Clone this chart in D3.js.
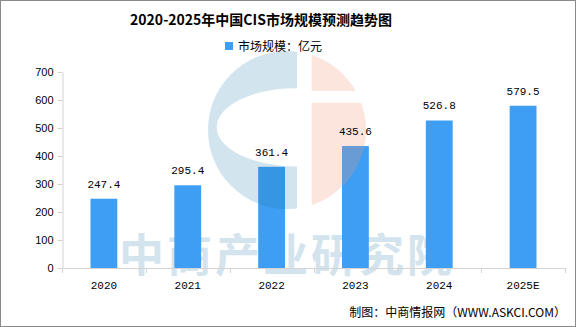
<!DOCTYPE html>
<html><head><meta charset="utf-8">
<script src="https://cdn.jsdelivr.net/npm/d3@7"></script>
<style>body{margin:0;background:#fff}svg{display:block}</style>
</head><body>
<svg id="c" width="576" height="327"></svg>
<script>
const title = "2020-2025年中国CIS市场规模预测趋势图";
const seriesName = "市场规模：亿元";
const categories = ["2020","2021","2022","2023","2024","2025E"];
const values = [247.4, 295.4, 361.4, 435.6, 526.8, 579.5];
const valueLabels = ["247.4","295.4","361.4","435.6","526.8","579.5"];
const yTicks = [0,100,200,300,400,500,600,700];
const source = "制图：中商情报网（WWW.ASKCI.COM）";
const watermark = "中商产业研究院";

(function(){
const svg = d3.select("#c");
const W = 576, H = 327;
const pLeft = 62, pRight = 565, pTop = 72, pBottom = 268;
const barColor = "#3d9ef3";
const axisColor = "#d4d4d4";
const cjk = "'Noto Sans CJK SC', sans-serif";
const mono = "'Liberation Mono', 'DejaVu Sans Mono', monospace";

svg.append("rect").attr("width", W).attr("height", H).attr("fill", "#fff");

const x = d3.scaleBand().domain(categories).range([pLeft, pRight]).padding(0);
const y = d3.scaleLinear().domain([0, 700]).range([pBottom, pTop]);

// watermark text (behind bars)
svg.append("text").attr("x", 287).attr("y", 272)
  .attr("text-anchor", "middle").attr("font-family", cjk).attr("font-weight", 700)
  .attr("font-size", 45).attr("letter-spacing", 3).attr("fill", "#d3e4ee")
  .text(watermark);

// title
svg.append("text").attr("x", 261).attr("y", 25).attr("text-anchor", "middle")
  .attr("font-family", cjk).attr("font-weight", 700).attr("font-size", 14).attr("fill", "#000")
  .text(title);

// legend
svg.append("rect").attr("x", 225).attr("y", 42).attr("width", 8).attr("height", 8).attr("fill", barColor);
svg.append("text").attr("x", 238).attr("y", 51).attr("font-family", cjk).attr("font-size", 12).attr("fill", "#000")
  .text(seriesName);

// y axis
const yAxis = svg.append("g").attr("transform", `translate(${pLeft + 0.5},0)`)
  .call(d3.axisLeft(y).tickValues(yTicks).tickSize(5).tickSizeOuter(0).tickPadding(4));
yAxis.select(".domain").attr("stroke", axisColor);
yAxis.selectAll(".tick line").attr("stroke", axisColor);
yAxis.selectAll(".tick text").attr("font-family", "'Liberation Sans', Arial, sans-serif")
  .attr("font-size", 11).attr("fill", "#000");

// x axis
const xg = svg.append("g");
xg.append("line").attr("x1", pLeft).attr("x2", pRight + 1).attr("y1", pBottom + 0.5).attr("y2", pBottom + 0.5)
  .attr("stroke", axisColor);
const bounds = categories.map(c => x(c)).concat([x.range()[1]]);
xg.selectAll("line.tk").data(bounds).join("line").attr("class", "tk")
  .attr("x1", d => Math.round(d) + 0.5).attr("x2", d => Math.round(d) + 0.5)
  .attr("y1", pBottom).attr("y2", pBottom + 5).attr("stroke", axisColor);
xg.selectAll("text").data(categories).join("text")
  .attr("x", d => x(d) + x.bandwidth() / 2).attr("y", 289)
  .attr("text-anchor", "middle").attr("font-family", mono).attr("font-size", 11).attr("fill", "#000")
  .text(d => d);

// bars
const bw = x.bandwidth() * 0.32;
svg.append("g").selectAll("rect").data(values).join("rect")
  .attr("x", (d, i) => x(categories[i]) + (x.bandwidth() - bw) / 2)
  .attr("width", bw)
  .attr("y", d => y(d)).attr("height", d => y(0) - y(d))
  .attr("fill", barColor);

// logo watermark (on top of bars)
const defs = svg.append("defs");
defs.append("clipPath").attr("id", "circ").append("circle").attr("cx", 287).attr("cy", 130).attr("r", 79);
const logo = svg.append("g").attr("clip-path", "url(#circ)");
logo.append("path")
  .attr("d", "M200,40 H297 V220 H200 Z M297,88 A80.3,39.2 0 0 0 297,166.4 Z")
  .attr("fill-rule", "evenodd").attr("fill", "rgb(30,120,170)").attr("fill-opacity", 0.2);
logo.append("path")
  .attr("d", "M311.7,40 H380 V91 H311.7 Z M311.7,102.7 H380 V220 H311.7 Z")
  .attr("fill", "rgb(240,150,120)").attr("fill-opacity", 0.25);

// value labels
svg.append("g").selectAll("text").data(values).join("text")
  .attr("x", (d, i) => x(categories[i]) + x.bandwidth() / 2)
  .attr("y", d => y(d) - 11)
  .attr("text-anchor", "middle").attr("font-family", mono).attr("font-size", 11).attr("fill", "#000")
  .text((d, i) => valueLabels[i]);

// source
svg.append("text").attr("x", 566).attr("y", 317).attr("text-anchor", "end")
  .attr("font-family", cjk).attr("font-size", 12).attr("fill", "#000")
  .text(source);

// frame
svg.append("rect").attr("x", 0.5).attr("y", 0.5).attr("width", W - 1).attr("height", H - 1)
  .attr("fill", "none").attr("stroke", "#8a8a8a");
})();
</script>
</body></html>
